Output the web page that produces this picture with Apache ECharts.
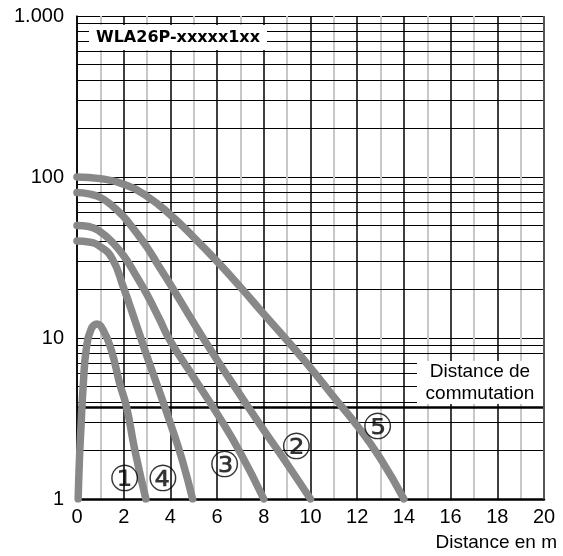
<!DOCTYPE html>
<html><head><meta charset="utf-8">
<script src="https://cdn.jsdelivr.net/npm/echarts@6/dist/echarts.min.js"></script>
<style>html,body{margin:0;padding:0;background:#fff}#c{width:563px;height:556px}</style>
</head><body><div id="c"></div>
<script>
// Curves (x in m, y on log scale)
const curve1 = [[0.05,1],[0.1,1.7],[0.17,2.8],[0.27,5.2],[0.4,8.6],[0.6,11.3],[0.86,12.2],[1.12,11.2],[1.47,8.4],[1.83,5.2],[2.12,3.74],[2.48,2.0],[2.95,1]];
const curve2 = [[0,80],[0.5,78.5],[1,74.6],[1.5,66.5],[2,56.6],[2.5,46],[3,36.6],[3.5,28],[4,21.5],[5,12.4],[6,7.3],[7,4.4],[8,2.68],[9,1.65],[10,1]];
const curve3 = [[0,50],[0.5,49.3],[1,45.7],[1.5,39.5],[2,32.4],[2.5,24.8],[3,18.6],[3.5,13.4],[4,9.55],[5,5.69],[6,3.39],[7,1.93],[8,1]];
const curve4 = [[0,40],[0.5,39.5],[1,36.9],[1.5,31.3],[2,20.4],[2.5,12.6],[3,7.67],[3.5,4.79],[4,2.95],[4.5,1.76],[4.95,1]];
const curve5 = [[0,100],[1,97.7],[2,90.2],[3,75.9],[4,58.2],[5,42.2],[6,29.9],[7,20.7],[8,14.1],[9,9.66],[10,6.53],[11,4.3],[12,2.85],[13,1.78],[14,1]];
const curves = [curve1, curve2, curve3, curve4, curve5];

// Circled curve labels
const labelText = ['①','②','③','④','⑤'];
const labelX = [2.04, 9.4, 6.32, 3.68, 12.88];
const labelY = [1.29, 2.04, 1.56, 1.29, 2.71];

// Grid helpers
const minorYLines = [2,3,4,5,6,7,8,9,20,30,40,50,60,70,80,90,200,300,400,500,600,700,800,900];
const switchingDistance = 3.74;
const yTickText = {1:'1', 10:'10', 100:'100', 1000:'1.000'};

const chart = echarts.init(document.getElementById('c'), null, {renderer:'canvas'});
const FONT = 'Liberation Sans';

const series = [];
series.push({
  type:'line', data:[[0,1]], symbol:'none', lineStyle:{opacity:0}, z:1, silent:true,
  markLine:{
    silent:true, symbol:'none', label:{show:false}, animation:false,
    data: minorYLines.map(v=>({yAxis:v, lineStyle:{color:'#000', width:1, type:'solid'}}))
      .concat([{yAxis:switchingDistance, lineStyle:{color:'#000', width:2.5, type:'solid'}},
               {xAxis:20, lineStyle:{color:'#555', width:2, type:'solid'}}])
  }
});
curves.forEach((c,i)=>{
  series.push({type:'line', data:c, symbol:'none', smooth:0.5, z:5,
    lineStyle:{color:'#888', width:7.5, cap:'round', join:'round'}, animation:false});
});
series.push({
  type:'scatter', z:10, symbolSize:1, itemStyle:{color:'rgba(0,0,0,0)'},
  data: labelX.map((x,i)=>[x, labelY[i]]),
  label:{show:true, position:'inside', formatter:p=>labelText[p.dataIndex],
    fontFamily:'DejaVu Sans', fontSize:36, color:'#000', align:'center', verticalAlign:'middle'},
  animation:false
});

chart.setOption({
  animation:false,
  grid:{left:77, right:19, top:16, bottom:57},
  xAxis:{type:'value', min:0, max:20, interval:2,
    axisLine:{lineStyle:{color:'#000', width:2.5}},
    axisTick:{show:false},
    axisLabel:{fontFamily:FONT, fontSize:20, color:'#000', margin:8},
    splitLine:{show:true, lineStyle:{color:'#000', width:1.5}},
    minorTick:{show:false, splitNumber:2},
    minorSplitLine:{show:true, lineStyle:{color:'#c8c8c8', width:2}}
  },
  yAxis:{type:'log', logBase:10, min:1, max:1000,
    axisLine:{show:true, lineStyle:{color:'#000', width:1.5}},
    axisTick:{show:false},
    axisLabel:{fontFamily:FONT, fontSize:20, color:'#000', margin:13, formatter:v=>yTickText[v] ?? String(v)},
    splitLine:{show:true, lineStyle:{color:'#000', width:1}}
  },
  series: series,
  graphic:[
    {type:'rect', shape:{x:89, y:25, width:178, height:25}, style:{fill:'#fff'}, z:100},
    {type:'text', x:178, y:38, z:101, style:{text:'WLA26P-xxxxx1xx', font:'bold 16px "DejaVu Sans"', fill:'#000', align:'center', verticalAlign:'middle'}},
    {type:'rect', shape:{x:417, y:361, width:126, height:43}, style:{fill:'#fff'}, z:100},
    {type:'text', x:480, y:383, z:101, style:{text:'Distance de\ncommutation', font:'19px "Liberation Sans"', fill:'#000', align:'center', verticalAlign:'middle', lineHeight:21.6}},
    {type:'text', x:557, y:543, z:101, style:{text:'Distance en m', font:'19px "Liberation Sans"', fill:'#000', align:'right', verticalAlign:'middle'}}
  ]
});
</script>
</body></html>
